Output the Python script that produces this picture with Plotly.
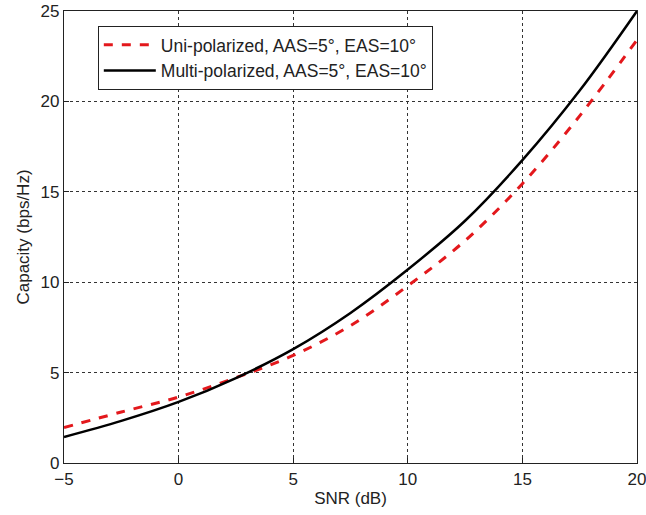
import plotly.graph_objects as go

# SNR sample points (dB)
snr_db = [-5, -2.5, 0, 2.5, 5, 7.5, 10, 12.5, 15, 17.5, 20]

# Ergodic capacity (bps/Hz)
cap_uni = [1.96, 2.82, 3.65, 4.72, 5.95, 7.6, 9.8, 12.3, 15.45, 19.2, 23.4]
cap_multi = [1.44, 2.33, 3.38, 4.7, 6.3, 8.3, 10.7, 13.4, 16.75, 20.6, 25.0]

series_names = [
    "Uni-polarized, AAS=5°, EAS=10°",
    "Multi-polarized, AAS=5°, EAS=10°",
]

x_ticks = [-5, 0, 5, 10, 15, 20]
y_ticks = [0, 5, 10, 15, 20, 25]

FONT = "Liberation Sans, Arial, sans-serif"
INK = "#222"

fig = go.Figure()
fig.add_trace(go.Scatter(
    x=snr_db, y=cap_uni, mode="lines", name=series_names[0],
    line=dict(color="#e3181c", width=3, dash="dash", shape="spline"),
))
fig.add_trace(go.Scatter(
    x=snr_db, y=cap_multi, mode="lines", name=series_names[1],
    line=dict(color="#000000", width=2.5, shape="spline"),
))

axis_common = dict(
    showline=True, linecolor=INK, linewidth=1.2, mirror=True,
    showgrid=True, gridcolor="#333", gridwidth=1, griddash="dot",
    zeroline=False, ticks="inside", ticklen=5, tickcolor=INK,
    tickfont=dict(family=FONT, size=17, color=INK),
    automargin=False,
)

fig.update_xaxes(
    range=[-5, 20], tickvals=x_ticks, ticklabeloverflow="allow",
    title=dict(text="SNR (dB)", font=dict(family=FONT, size=17, color=INK), standoff=4),
    **axis_common,
)
fig.update_yaxes(
    range=[0, 25], tickvals=y_ticks,
    title=dict(text="Capacity (bps/Hz)", font=dict(family=FONT, size=17, color=INK), standoff=6),
    **axis_common,
)

fig.update_layout(
    width=646, height=515,
    margin=dict(l=64, r=9, t=11, b=52),
    paper_bgcolor="white", plot_bgcolor="white",
    font=dict(family=FONT, color=INK),
    showlegend=True,
    legend=dict(
        x=0.059, y=0.967, xanchor="left", yanchor="top",
        bgcolor="white", bordercolor=INK, borderwidth=1,
        font=dict(family=FONT, size=17.5, color=INK),
        itemwidth=52, tracegroupgap=0,
    ),
)

fig.write_html("out.html")
